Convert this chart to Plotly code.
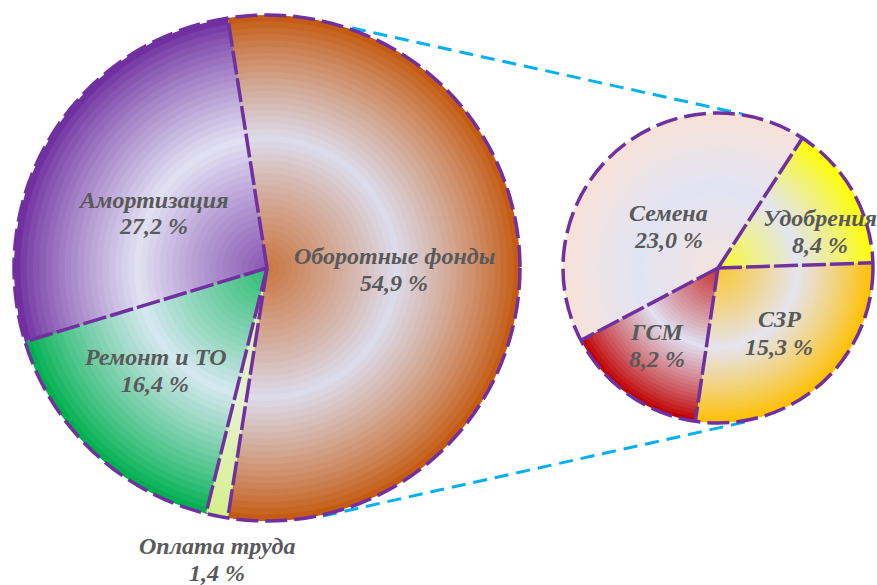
import plotly.graph_objects as go
import math

W, H = 877, 585

# ---- data ----
main_labels = ["Оборотные фонды", "Оплата труда", "Ремонт и ТО", "Амортизация"]
main_values = [54.9, 1.4, 16.4, 27.2]
sub_labels = ["Удобрения", "СЗР", "ГСМ", "Семена"]
sub_values = [8.4, 15.3, 8.2, 23.0]

# ---- styling ----
main_edge = ["#C55A11", "#D4F08A", "#00B050", "#7030A0"]
main_light = ["#DCDCEC", "#E6F2D2", "#D6E8F0", "#E2E2F4"]
sub_edge = ["#FFFF00", "#FFC000", "#C00000", "#F8E2D8"]
sub_light = ["#E2E4F2", "#E6E4F0", "#E0E2F2", "#E2E4F4"]

main_center, main_r = (267, 268), 253
sub_center, sub_r = (718, 268), 155
main_rot = 90 - main_values[0] / sum(main_values) * 180
sub_rot = 33

def hex2rgb(h):
    h = h.lstrip("#")
    return [int(h[i:i + 2], 16) for i in (0, 2, 4)]

def mix(a, b, t):
    ca, cb = hex2rgb(a), hex2rgb(b)
    return "rgb(%d,%d,%d)" % tuple(round(ca[i] + (cb[i] - ca[i]) * t) for i in range(3))

def shade(edge, light, r):
    if r >= 0.52:
        t = ((1 - r) / 0.48) ** 0.85
        return mix(edge, light, t)
    t = ((0.52 - r) / 0.52) ** 0.9 * 0.8
    return mix(light, edge, t)

def domain(center, r):
    cx, cy = center
    return dict(x=[(cx - r) / W, (cx + r) / W], y=[1 - (cy + r) / H, 1 - (cy - r) / H])

fig = go.Figure()
N = 40
for labels, values, edges, lights, center, R, rot in [
    (main_labels, main_values, main_edge, main_light, main_center, main_r, main_rot),
    (sub_labels, sub_values, sub_edge, sub_light, sub_center, sub_r, sub_rot),
]:
    for k in range(N):
        rf = 1 - k / N
        fig.add_trace(go.Pie(
            labels=labels, values=values, sort=False, direction="clockwise",
            rotation=rot, textinfo="none", hoverinfo="skip", showlegend=False,
            marker=dict(colors=[shade(e, l, rf) for e, l in zip(edges, lights)],
                        line=dict(width=0)),
            domain=domain(center, R * rf),
        ))

shapes = []
purple = "#7030A0"
# connector lines (below the pies' borders)
for (x0, y0), (x1, y1) in [((352, 28), (742, 114)), ((323, 516), (745, 422))]:
    shapes.append(dict(type="line", xref="paper", yref="paper",
                       x0=x0 / W, y0=1 - y0 / H, x1=x1 / W, y1=1 - y1 / H,
                       line=dict(color="#00B0F0", width=3, dash="14px,8px"), layer="below"))

# outlines and radial borders
for values, center, R, rot in [(main_values, main_center, main_r, main_rot),
                               (sub_values, sub_center, sub_r, sub_rot)]:
    cx, cy = center
    shapes.append(dict(type="circle", xref="paper", yref="paper",
                       x0=(cx - R) / W, x1=(cx + R) / W,
                       y0=1 - (cy + R) / H, y1=1 - (cy - R) / H,
                       line=dict(color=purple, width=3.5, dash="22px,7px")))
    tot = sum(values)
    a = rot
    for v in values:
        rad = math.radians(a)
        shapes.append(dict(type="line", xref="paper", yref="paper",
                           x0=cx / W, y0=1 - cy / H,
                           x1=(cx + R * math.sin(rad)) / W, y1=1 - (cy - R * math.cos(rad)) / H,
                           line=dict(color=purple, width=3.5, dash="24px,4px")))
        a += v / tot * 360

ann_pos = {
    "Амортизация": (153, 213), "Оборотные фонды": (394, 269), "Ремонт и ТО": (155, 370),
    "Оплата труда": (217, 559), "Семена": (668, 226), "Удобрения": (820, 231),
    "СЗР": (779, 333), "ГСМ": (657, 345),
}
annotations = []
for lab, val in list(zip(main_labels, main_values)) + list(zip(sub_labels, sub_values)):
    x, y = ann_pos[lab]
    lines = [lab, "%s %%" % ("%.1f" % val).replace(".", ",")]
    for i, line in enumerate(lines):
        yy = y + (i - 0.5) * 27
        annotations.append(dict(x=x / W, y=1 - yy / H, xref="paper", yref="paper",
                                text="<b><i>%s</i></b>" % line, showarrow=False,
                                font=dict(family="Liberation Serif, Times New Roman, serif",
                                          size=24, color="#595959"),
                                xanchor="center", yanchor="middle", align="center"))

fig.update_layout(width=W, height=H, margin=dict(l=0, r=0, t=0, b=0),
                  paper_bgcolor="white", plot_bgcolor="white",
                  shapes=shapes, annotations=annotations, showlegend=False)
fig.write_html("out.html")
